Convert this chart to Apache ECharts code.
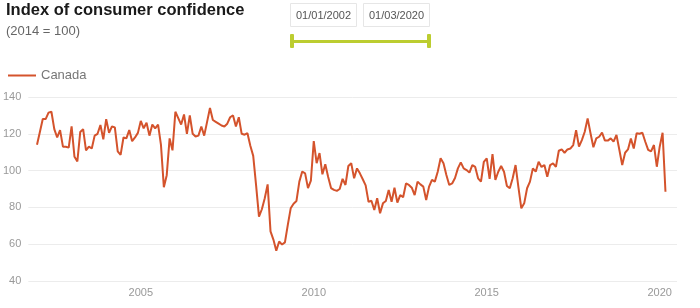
<!DOCTYPE html>
<html>
<head>
<meta charset="utf-8">
<script src="https://cdn.jsdelivr.net/npm/echarts@6/dist/echarts.min.js"></script>
<style>
html,body{margin:0;padding:0;background:#fff;}
#chart{width:700px;height:308px;}
</style>
</head>
<body>
<div id="chart"></div>
<script>
// Monthly index of consumer confidence, Canada (2014 = 100), Jan 2002 – Mar 2020
var startYear = 2002;
var seriesName = 'Canada';
var canada = [
  114, 121, 128, 128, 131.5, 132, 122.5, 118, 122, 113, 113, 112.5,
  124, 107.5, 105, 121, 122.5, 111, 113, 112, 119, 120, 124.8, 117,
  128, 120.5, 124, 123.5, 110.5, 108.5, 118, 117.5, 122, 116, 118, 120.5,
  127, 123, 126, 119, 125, 123, 125, 114, 91, 97.5, 117.5, 111,
  132, 128.5, 125, 130.5, 120, 130, 120, 118.5, 119, 124, 119, 126.5,
  134, 127.5, 126.5, 125.5, 124.5, 124, 125.5, 129, 130, 124, 129, 120,
  119.5, 120.3, 113.5, 108, 92, 75, 79, 85, 92.5, 67, 62.5, 56.5,
  61.5, 59.8, 61, 70.5, 79.5, 82, 83.5, 94, 99.5, 98.5, 90.5, 94.5,
  116, 104, 109.5, 98, 103.5, 96.5, 90.5, 89.5, 89, 90, 95.5, 92.2,
  102.5, 104, 95.8, 101.2, 98.5, 95.3, 92, 83, 83.6, 78.6, 85, 76.8,
  82.2, 83.5, 89.5, 83, 90.7, 82.6, 86.7, 85.5, 93, 92.2, 90.7, 86.7,
  94, 92.5, 91.3, 84, 91.3, 95, 94, 99.4, 106.7, 104, 97.6, 92.2,
  93, 96, 101.2, 104.5, 101.2, 100.3, 98.9, 103, 102, 95.8, 94, 104.8,
  106.7, 95.5, 109, 94.9, 99.4, 102.5, 99.4, 91.6, 90.4, 95.8, 103, 90.9,
  79.5, 82.2, 90.4, 94, 101.2, 99.4, 104.8, 102, 103, 96.7, 103, 103.9,
  102, 110.8, 111.5, 109.7, 111.5, 112, 113.9, 122, 113, 116.6, 121.1, 128.4,
  120.3, 112.7, 117.5, 118.4, 120.6, 116.3, 116.3, 117.5, 115.7, 119.4, 111.3, 103,
  109.7, 111.5, 117.5, 112, 120.3, 120, 120.6, 115.7, 111.3, 110.4, 113.9, 102.1,
  113, 120.6, 88.5
];
var xLabelYears = [2005, 2010, 2015, 2020];
var yTicks = [40, 60, 80, 100, 120, 140];
var titleText = 'Index of consumer confidence';
var subtitleText = '(2014 = 100)';
var rangeStart = '01/01/2002';
var rangeEnd = '01/03/2020';

// x = decimal year of each month (Jan 2002 -> 2002.0)
var data = canada.map(function (v, i) {
  return [startYear + i / 12, v];
});

var chart = echarts.init(document.getElementById('chart'), null, {renderer: 'canvas'});
var font = "'Liberation Sans', Arial, sans-serif";
var green = '#bccd30';
chart.setOption({
  animation: false,
  backgroundColor: '#fff',
  textStyle: {fontFamily: font},
  title: {
    text: titleText,
    subtext: subtitleText,
    left: 6, top: 2, padding: 0, itemGap: 6,
    textStyle: {fontSize: 16.5, fontWeight: 'bold', color: '#1a1a1a', fontFamily: font},
    subtextStyle: {fontSize: 13, color: '#666', fontFamily: font}
  },
  legend: {
    left: 8, top: 69, padding: 0,
    icon: 'rect', itemWidth: 28, itemHeight: 2, itemGap: 5,
    textStyle: {fontSize: 13, color: '#777', fontFamily: font},
    data: [seriesName]
  },
  grid: {left: 27, right: 23, top: 97, bottom: 27, containLabel: false},
  xAxis: {
    type: 'value',
    min: 2001.75,
    max: 2020.5,
    interval: 0.25,
    axisLine: {show: false},
    axisTick: {show: false},
    splitLine: {show: false},
    axisLabel: {
      formatter: function (v) {
        var r = Math.round(v);
        return (Math.abs(v - r) < 1e-6 && xLabelYears.indexOf(r) >= 0) ? String(r) : '';
      },
      color: '#999', fontSize: 11, margin: 6, fontFamily: font,
      showMinLabel: false, showMaxLabel: false
    }
  },
  yAxis: {
    type: 'value',
    min: yTicks[0], max: yTicks[yTicks.length - 1], interval: 20,
    axisLine: {show: false},
    axisTick: {show: false},
    axisLabel: {color: '#999', fontSize: 11, margin: 7, fontFamily: font},
    splitLine: {lineStyle: {color: '#ececec', width: 1}}
  },
  series: [{
    name: seriesName,
    type: 'line',
    data: data,
    showSymbol: false,
    symbol: 'none',
    lineStyle: {color: '#d4532c', width: 2},
    itemStyle: {color: '#d4532c'}
  }],
  graphic: [
    {type: 'rect', shape: {x: 290.5, y: 3.5, width: 66, height: 23}, style: {fill: '#fff', stroke: '#e6e6e6', lineWidth: 1}},
    {type: 'text', x: 323.5, y: 15.5, style: {text: rangeStart, fill: '#555', font: '11px ' + font, align: 'center', verticalAlign: 'middle'}},
    {type: 'rect', shape: {x: 363.5, y: 3.5, width: 66, height: 23}, style: {fill: '#fff', stroke: '#e6e6e6', lineWidth: 1}},
    {type: 'text', x: 396.5, y: 15.5, style: {text: rangeEnd, fill: '#555', font: '11px ' + font, align: 'center', verticalAlign: 'middle'}},
    {type: 'rect', shape: {x: 292, y: 40, width: 136, height: 3}, style: {fill: green}},
    {type: 'rect', shape: {x: 290, y: 34, width: 4, height: 14, r: 1}, style: {fill: green}},
    {type: 'rect', shape: {x: 427, y: 34, width: 4, height: 14, r: 1}, style: {fill: green}}
  ]
});
</script>
</body>
</html>
